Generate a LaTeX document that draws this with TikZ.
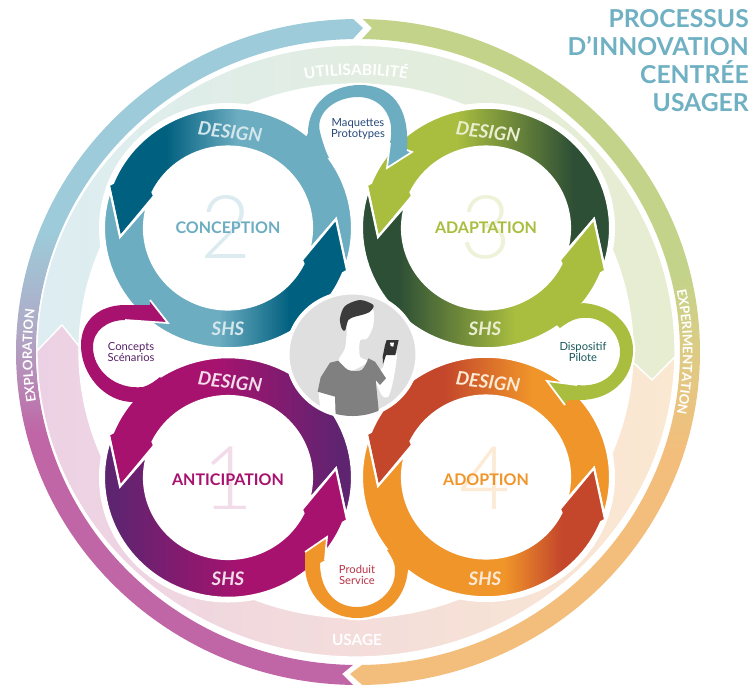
\documentclass[tikz,border=0pt]{standalone}
\usepackage{fontspec}
\setmainfont{Lato}
\newfontfamily\thinfont{Lato Light}
\usetikzlibrary{decorations.text}

\definecolor{blueH}{HTML}{00607F}
\definecolor{blueT}{HTML}{6DADC1}
\definecolor{greenH}{HTML}{A9BD3F}
\definecolor{greenT}{HTML}{2D4F35}
\definecolor{purpleH}{HTML}{A8126F}
\definecolor{purpleT}{HTML}{5E2470}
\definecolor{orangeH}{HTML}{C4472B}
\definecolor{orangeT}{HTML}{F0952A}
\definecolor{ringteal}{HTML}{9DCBD9}
\definecolor{ringlilac}{HTML}{AFAAC6}
\definecolor{ringpink}{HTML}{C066A6}
\definecolor{ringgreen}{HTML}{C3D38A}
\definecolor{ringsand}{HTML}{DDCB84}
\definecolor{ringorange}{HTML}{F3BE7C}
\definecolor{titleblue}{HTML}{6FB0C3}

\newcommand{\ringshading}[5]{%
  \pgfdeclarehorizontalshading{#1}{100bp}{color(0bp)=(#2); color(#4bp)=(#2); color(#5bp)=(#3); color(100bp)=(#3)}}
\ringshading{ringblue}{blueH}{blueT}{36}{50}
\ringshading{ringgreen}{greenH}{greenT}{42.5}{65}
\ringshading{ringpurple}{purpleH}{purpleT}{45}{70}
\ringshading{ringorange}{orangeH}{orangeT}{40}{57}
\ringshading{ringorangelow}{orangeH}{orangeT}{33.5}{44.5}
\pgfdeclareverticalshading{outerleft}{100bp}{color(0bp)=(ringpink); color(44bp)=(ringpink); color(51.6bp)=(ringlilac); color(59bp)=(ringteal); color(100bp)=(ringteal)}
\pgfdeclareverticalshading{outerright}{100bp}{color(0bp)=(ringorange); color(42.6bp)=(ringorange); color(50bp)=(ringsand); color(56bp)=(ringgreen); color(100bp)=(ringgreen)}

\tikzset{
  ringpiece/.style={draw=white,line width=1.6pt},
  halo/.style={draw=white,fill=white,line width=3.5pt},
  headedge/.style={draw=white,line width=1.3pt,line join=miter},
  ringlabel/.style={font=\bfseries\fontsize{12}{14}\selectfont,inner sep=0pt},
  ghost/.style={font=\thinfont\fontsize{66}{66}\selectfont,inner sep=0pt},
  designlabel/.style={font=\bfseries\itshape\fontsize{14}{16}\selectfont,text=#1,inner sep=0pt,rotate=-7},
  shslabel/.style={font=\bfseries\itshape\fontsize{14}{16}\selectfont,text=#1,inner sep=0pt},
  smalllabel/.style={font=\fontsize{8.4}{8.2}\selectfont,align=center,inner sep=0pt,text=#1},
  curvedlabel/.style 2 args={decorate,decoration={text along path,text align=center,text={|\bfseries\fontsize{#1}{12}\selectfont\color{white}|#2}}}
}

% one cycle: two arrows, the second is the first turned by 180
\newcommand{\cyclering}[3]{%
  \begin{scope}[shift={#1},y=.7275pt]
    \foreach \rot/\shname in {0/#2,180/#3}
      \shade[ringpiece,shading=\shname,shading angle=\rot,rotate=\rot] (-18:124)
        arc[start angle=-18,end angle=158,radius=124] -- (159.7:127) -- (184.9:108.4)
        -- (155.9:81) -- (154:84) arc[start angle=154,end angle=-16,radius=84]
        -- (4.9:108.4) -- cycle;
  \end{scope}}

\newcommand{\maquettesband}{(300,150) -- (308,133) .. controls (308,105) and (330,85) .. (360,85)
  .. controls (390,85) and (410,105) .. (407,150) -- (412,152) -- (387,168) -- (390,143)
  .. controls (396,115) and (380,97) .. (358,97) .. controls (335,97) and (315,113) .. (320,132)
  .. controls (322,140) and (325,150) .. (329,158) -- (318,158) -- cycle}
\newcommand{\conceptsband}{(150,410) -- (133,402) .. controls (105,402) and (81,375) .. (81,345)
  .. controls (81,320) and (100,305) .. (125,305) -- (150,305) -- (150,300) -- (168,323) -- (125,320)
  .. controls (108,320) and (93,330) .. (93,347) .. controls (93,370) and (115,390) .. (143,387)
  .. controls (150,385) and (155,381) .. (160,377) -- (170,390) -- cycle}
\newcommand{\dispositifband}{(565,310) -- (583,303) .. controls (612,305) and (633,325) .. (633,350)
  .. controls (633,380) and (610,400) .. (580,400) -- (567,400) -- (565,405) -- (547,381) -- (577,385)
  .. controls (603,388) and (620,372) .. (620,352) .. controls (620,330) and (600,316) .. (583,318)
  .. controls (575,318) and (568,322) .. (560,328) -- (550,318) -- cycle}
\newcommand{\produitband}{(420,560) -- (408,570) .. controls (405,600) and (385,618) .. (357,618)
  .. controls (328,618) and (305,595) .. (305,565) -- (305,552) -- (327,537) -- (325,560) -- (320,563)
  .. controls (320,590) and (335,607) .. (357,607) .. controls (378,607) and (396,590) .. (395,570)
  .. controls (395,562) and (392,558) .. (387,550) -- (405,545) -- cycle}

\begin{document}
\begin{tikzpicture}[x=.75pt,y=-.75pt]
  \useasboundingbox (0,0) rectangle (754,687);

  % outer ring and pale band
  \begin{scope}[shift={(358,352)},y=.75pt]
    \shade[shading=outerleft] (269.2:342 and 333) arc[start angle=269.2,end angle=90.8,x radius=342,y radius=333]
      -- (5,324) -- (90.9:322 and 313) arc[start angle=90.9,end angle=269.1,x radius=322,y radius=313] -- (-16,-322) -- cycle;
    \shade[shading=outerright] (89.2:342 and 333) arc[start angle=89.2,end angle=-89.3,x radius=342,y radius=333]
      -- (-8,-322) -- (-89.3:322 and 313) arc[start angle=-89.3,end angle=89.3,x radius=322,y radius=313] -- (14,324) -- cycle;
  \end{scope}
  \begin{scope}[shift={(356,351)},y=.75pt]
    \shade[left color=ringteal!35,right color=ringgreen!40,draw=white,line width=1pt]
      (180:319 and 306) -- (-294,26) -- (179:277 and 267) arc[start angle=179,end angle=-2.4,x radius=277,y radius=267]
      -- (296,-29) -- (-1.1:319 and 306) arc[start angle=-1.1,end angle=180,x radius=319,y radius=306] -- cycle;
    \shade[left color=ringpink!30,right color=ringorange!35,draw=white,line width=1pt]
      (-1.1:319 and 306) -- (296,-29) -- (-2.4:277 and 267) arc[start angle=-2.4,end angle=-181,x radius=277,y radius=267]
      -- (-294,26) -- (-180:319 and 306) arc[start angle=-180,end angle=-1.1,x radius=319,y radius=306] -- cycle;
  \end{scope}

  % white round everything that lies on the band
  \foreach \cx/\cy in {228/228,486/228,228/477.5,486/477}
    \fill[white] (\cx,\cy) ellipse[x radius=129,y radius=125];
  \path[halo] \maquettesband;
  \path[halo] \conceptsband;
  \path[halo] \dispositifband;
  \path[halo] \produitband;

  \cyclering{(228,228)}{ringblue}{ringblue}
  \cyclering{(486,228)}{ringgreen}{ringgreen}
  \cyclering{(228,477.5)}{ringpurple}{ringpurple}
  \cyclering{(486,477)}{ringorange}{ringorangelow}

  \fill[blueT] \maquettesband;
  \fill[purpleH] \conceptsband;
  \fill[greenH] \dispositifband;
  \fill[orangeT] \produitband;
  \draw[headedge] (407,150) -- (412,152) -- (387,168) -- (390,143);
  \draw[headedge] (150,300) -- (168,323) -- (125,320);
  \draw[headedge] (565,405) -- (547,381) -- (577,385);
  \draw[headedge] (305,552) -- (327,537) -- (325,560);

  % person
  \fill[gray!25!white,draw=white,line width=3pt] (352.5,354.5) ellipse[x radius=65,y radius=62];
  \begin{scope}[shift={(280,290)},x=.25pt,y=-.25pt]
    \clip (217.5,194) ellipse[x radius=193,y radius=184];
    \fill[white] plot[smooth cycle] coordinates {(205,85) (275,55) (280,105) (262,145) (240,152) (240,200) (265,215) (205,245) (175,215) (195,175) (200,130)};
    \fill[white] (115,300) -- (165,310) -- (165,400) -- (125,400) -- cycle;
    \fill[white] plot[smooth cycle] coordinates {(285,260) (305,315) (325,320) (340,270) (350,190) (318,190) (310,230)};
    \fill[black!50] plot[smooth] coordinates {(175,212) (205,240) (245,240) (265,205)} -- (285,215) -- (318,265) -- (300,285) -- (287,270) -- (300,400) -- (168,400) -- (165,320) -- (113,305) -- (122,262) -- (150,218) -- cycle;
    \fill[black!77] plot[smooth cycle] coordinates {(180,85) (195,48) (240,30) (280,45) (270,65) (245,75) (225,80) (205,90) (195,122) (185,115)};
    \fill[black!80] (320,150) -- (356,150) -- (346,195) -- (318,195) -- (309,222) -- (308,200) -- (315,165) -- cycle;
    \fill[white] (330,158) -- (342,158) -- (340,170) -- (332,168) -- cycle;
  \end{scope}

  % numbers and names of the four steps
  \node[ghost,text=blueT!25] (num2) at (226,227) {2};
  \node[ghost,text=greenH!20] (num3) at (486,227) {3};
  \node[ghost,text=purpleH!15] (num1) at (228,478) {1};
  \node[ghost,text=orangeT!20] (num4) at (485,478) {4};
  \node[ringlabel,text=blueT] (conception) at (228,228) {CONCEPTION};
  \node[ringlabel,text=greenH] (adaptation) at (486,228) {ADAPTATION};
  \node[ringlabel,text=purpleH] (anticipation) at (228,480) {ANTICIPATION};
  \node[ringlabel,text=orangeT] (adoption) at (486,480) {ADOPTION};

  \node[designlabel=blueT!30] (design2) at (230,132) {DESIGN};
  \node[designlabel=greenH!25] (design3) at (488,132) {DESIGN};
  \node[designlabel=purpleH!15] (design1) at (230,382) {DESIGN};
  \node[designlabel=orangeT!20] (design4) at (488,382) {DESIGN};
  \node[shslabel=blueT!30] (shs2) at (228,329) {SHS};
  \node[shslabel=greenH!25] (shs3) at (485,329) {SHS};
  \node[shslabel=purpleH!15] (shs1) at (228,579) {SHS};
  \node[shslabel=orangeT!20] (shs4) at (485,579) {SHS};

  \node[smalllabel=blueH!60!purpleT] (maquettes) at (358,129) {Maquettes\\Prototypes};
  \node[smalllabel=purpleT!90!black] (concepts) at (131,352) {Concepts\\Scénarios};
  \node[smalllabel=greenT!50!blueH] (dispositif) at (583,352) {Dispositif\\Pilote};
  \node[smalllabel=orangeH!60!purpleH] (produit) at (357,575) {Produit\\Service};

  \node[font=\bfseries\fontsize{18.5}{21}\selectfont,text=titleblue,align=right,anchor=east,inner sep=0pt] (title) at (749,61)
    {PROCESSUS\\D'INNOVATION\\CENTRÉE\\USAGER};

  \node[font=\bfseries\fontsize{11.5}{13}\selectfont,text=white,inner sep=0pt] (usage) at (357,640) {USAGE};
  \begin{scope}[shift={(356,351)},y=.75pt]
    \path[curvedlabel={11.6}{UTILISABILITÉ}] (112:288 and 276) arc[start angle=112,end angle=68,x radius=288,y radius=276];
  \end{scope}
  \begin{scope}[shift={(358,352)},y=.75pt]
    \path[curvedlabel={9.9}{EXPLORATION}] (200:326 and 317) arc[start angle=200,end angle=161.4,x radius=326,y radius=317];
    \path[curvedlabel={9.9}{EXPERIMENTATION}] (20:325 and 316) arc[start angle=20,end angle=-20,x radius=325,y radius=316];
  \end{scope}
\end{tikzpicture}
\end{document}
